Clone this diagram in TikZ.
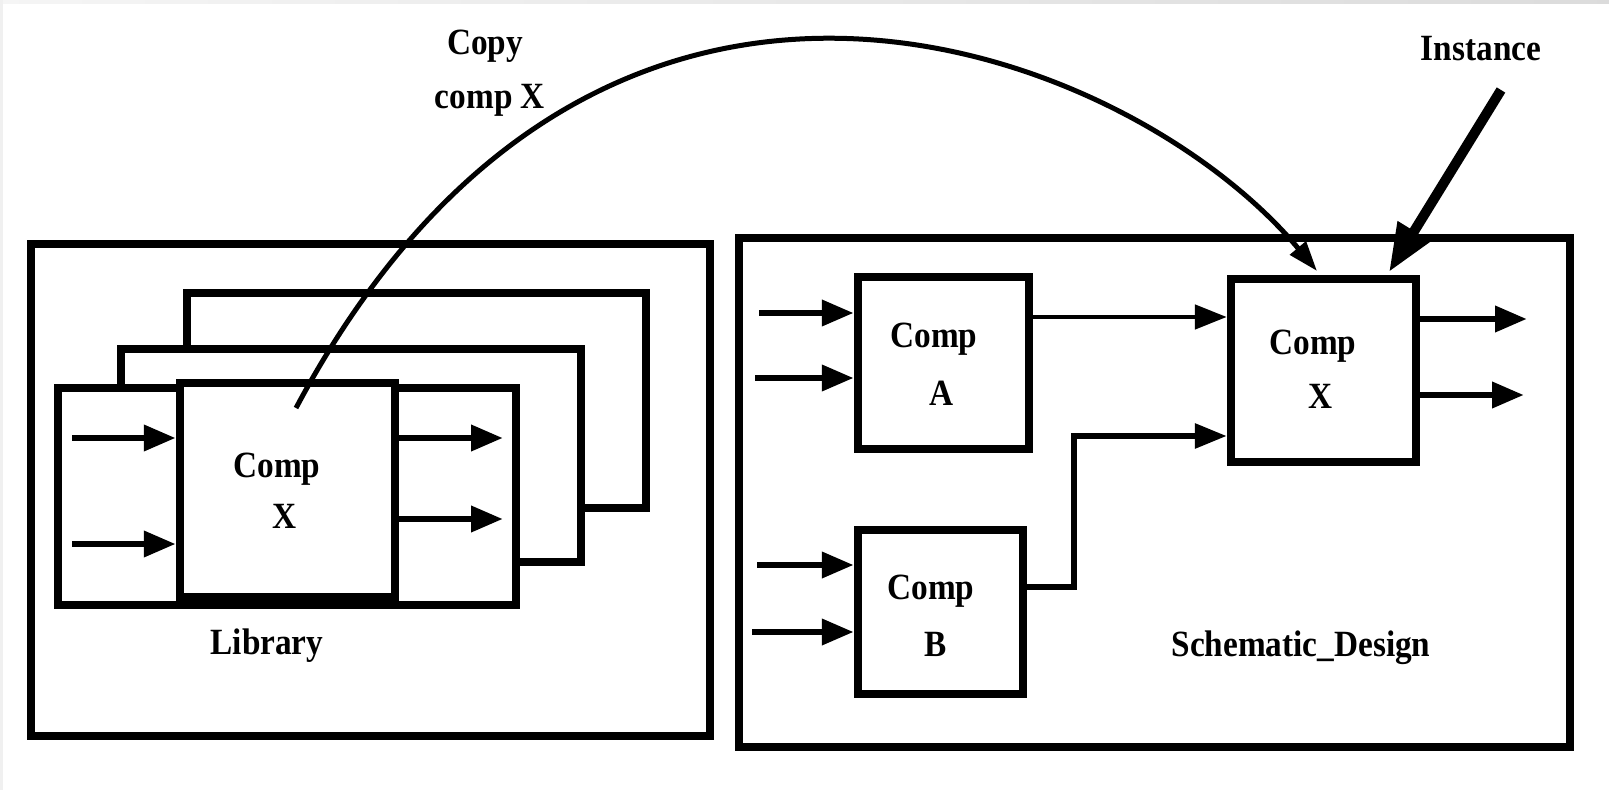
\documentclass[tikz,border=0pt]{standalone}
\usepackage{fontspec}
\newfontfamily\labfont{Liberation Serif}[FakeStretch=0.9]
\usetikzlibrary{arrows.meta}
\begin{document}
\begin{tikzpicture}[x=0.5pt,y=-0.5pt,
  box/.style={draw, line width=4.2pt, fill=white, inner sep=0pt},
  lab/.style={inner sep=0pt, font=\labfont\bfseries\fontsize{18.5}{22}\selectfont},
  sig/.style={line width=3.4pt, -{Triangle[length=16pt,width=12.5pt]}},
  wire/.style={line width=3.4pt},
  copyarr/.style={line width=2.5pt, -{Triangle[length=15pt,width=10pt]}},
  instarr/.style={line width=5pt, -{Triangle[length=24pt,width=18pt]}}]
\useasboundingbox (0,0) rectangle (1609,790);
% faint grey frame of the scan
\shade[left color=gray!8, right color=gray!28] (0,0) rectangle (1609,4);
\fill[gray!12] (0,0) rectangle (3,790);

% Library
\node[box, minimum width=339.5pt, minimum height=246pt] (lib) at (370.5,490) {};
\node[box, minimum width=229.5pt, minimum height=107.5pt] (card3) at (416.5,400.5) {};
\node[box, minimum width=230pt, minimum height=106.5pt] (card2) at (351,455.5) {};
\node[box, minimum width=229pt, minimum height=108.5pt] (card1) at (287,496.5) {};
\node[box, minimum width=107.5pt, minimum height=107pt] (libX) at (287.5,490) {};
\node[lab] (libXc) at (277,469) {Comp};
\node[lab] (libXx) at (285,516) {X};
\node[lab] (libl) at (267,646) {Library};

\coordinate (li1) at (72,438);
\coordinate (li2) at (72,544);
\coordinate (lo1) at (503,438);
\coordinate (lo2) at (503,519);
\draw[sig] (li1) -- (li1 -| libX.west);
\draw[sig] (li2) -- (li2 -| libX.west);
\draw[sig] (lo1 -| libX.east) -- (lo1);
\draw[sig] (lo2 -| libX.east) -- (lo2);

% Schematic design
\node[box, minimum width=415.5pt, minimum height=254.5pt] (sch) at (1154.5,492.5) {};
\node[box, minimum width=85.5pt, minimum height=86pt] (compA) at (943.5,363) {};
\node[box, minimum width=82.5pt, minimum height=82pt] (compB) at (940.5,612) {};
\node[box, minimum width=92.5pt, minimum height=91.5pt] (schX) at (1323.5,370.5) {};
\node[lab] (Ac) at (934,339) {Comp};
\node[lab] (Aa) at (942,393) {A};
\node[lab] (Bc) at (931,591) {Comp};
\node[lab] (Bb) at (936,644) {B};
\node[lab] (Xc) at (1313,346) {Comp};
\node[lab] (Xx) at (1321,396) {X};
\node[lab] (schl) at (1301,648) {Schematic\_Design};

\coordinate (ai1) at (759,313);
\coordinate (ai2) at (755,378);
\coordinate (bi1) at (757,565);
\coordinate (bi2) at (752,632);
\draw[sig] (ai1) -- (ai1 -| compA.west);
\draw[sig] (ai2) -- (ai2 -| compA.west);
\draw[sig] (bi1) -- (bi1 -| compB.west);
\draw[sig] (bi2) -- (bi2 -| compB.west);

\coordinate (ax) at (0,317);
\draw[line width=2.4pt, -{Triangle[length=16pt,width=12pt]}] (compA.east |- ax) -- (schX.west |- ax);
\coordinate (bo) at (0,587);
\coordinate (bxc) at (1074,436);
\draw[wire, line join=miter] (compB.east |- bo) -- (bxc |- bo) -- (bxc) -- ++(10,0);
\draw[line width=3pt, -{Triangle[length=16pt,width=12pt]}] (bxc) -- (bxc -| schX.west);

\coordinate (xo1) at (1527,319);
\coordinate (xo2) at (1524,395);
\draw[sig] (xo1 -| schX.east) -- (xo1);
\draw[sig] (xo2 -| schX.east) -- (xo2);

% Copy arc
\coordinate (cs) at (296,408);
\coordinate (ce) at (1317,271);
\draw[copyarr] (cs) .. controls (602,-166) and (1133,50) .. (ce);
\node[lab] (copy1) at (485,46) {Copy};
\node[lab] (copy2) at (490,100) {comp X};

% Instance arrow
\coordinate (is) at (1501,90);
\coordinate (ie) at (1389,272);
\draw[instarr] (is) -- (ie);
\node[lab] (inst) at (1481,49) {Instance};
\end{tikzpicture}
\end{document}
